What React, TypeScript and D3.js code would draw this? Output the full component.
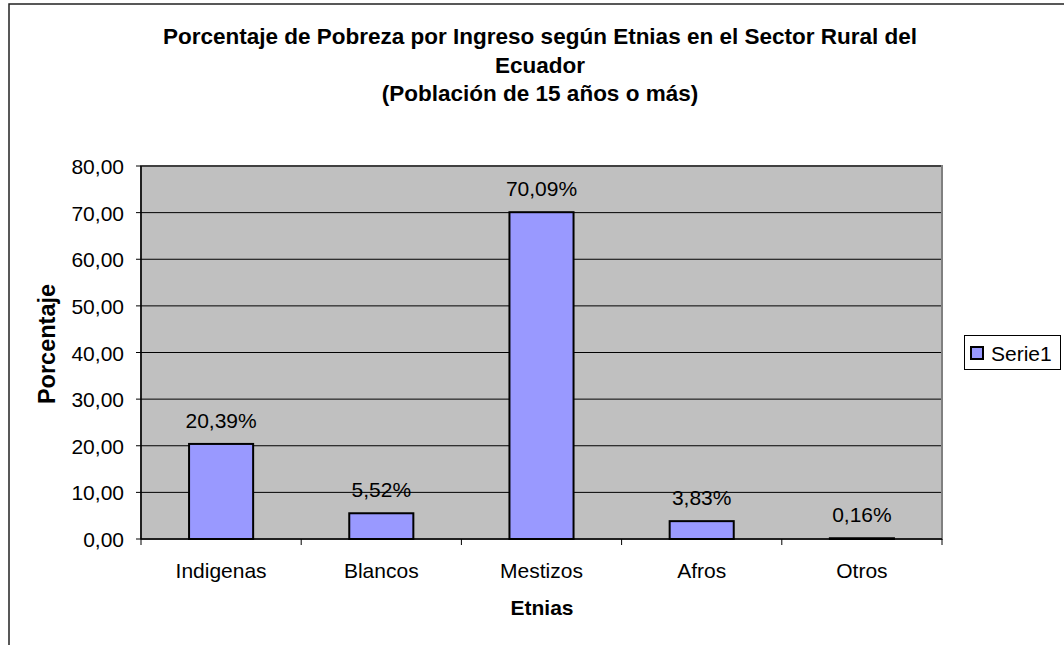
import React from "react";
import * as d3 from "d3";

const categories = ["Indigenas", "Blancos", "Mestizos", "Afros", "Otros"];
const values = [20.39, 5.52, 70.09, 3.83, 0.16];
const yTicks = [0, 10, 20, 30, 40, 50, 60, 70, 80];
const titleLines = [
  "Porcentaje de Pobreza por Ingreso según Etnias en el Sector Rural del",
  "Ecuador",
  "(Población de 15 años o más)",
];
const seriesName = "Serie1";

const W = 1064;
const H = 645;
const FONT = "'Liberation Sans', Arial, sans-serif";

export default function App() {
  const left = 141, right = 942, top = 166, bottom = 539;
  const x = d3.scaleBand<string>().domain(categories).range([left, right]).paddingInner(0.6).paddingOuter(0.3);
  const xOuter = d3.scaleBand<string>().domain(categories).range([left, right]);
  const y = d3.scaleLinear().domain([0, 80]).range([bottom, top]);
  const fmt = (v: number) => v.toFixed(2).replace(".", ",");

  return (
    <svg width={W} height={H} style={{ position: "absolute", left: 0, top: 0, fontFamily: FONT }}>
      <rect x={0} y={0} width={W} height={H} fill="#fff" />
      <rect x={9} y={4} width={W + 20} height={H + 20} fill="none" stroke="#222" strokeWidth={1.5} />
      {titleLines.map((t, i) => (
        <text key={i} x={540} y={44 + i * 28.5} textAnchor="middle" fontWeight="bold" fontSize={22.5} fill="#000">
          {t}
        </text>
      ))}
      <rect x={left} y={top} width={right - left} height={bottom - top} fill="#c0c0c0" stroke="#808080" strokeWidth={2} />
      {yTicks.filter((t) => t > 0).map((t) => (
        <line key={t} x1={left} x2={right - 1} y1={y(t)} y2={y(t)} stroke="#000" strokeWidth={1} />
      ))}
      {values.map((v, i) => (
        <g key={i}>
          <rect
            x={x(categories[i])!}
            y={y(v)}
            width={x.bandwidth()}
            height={bottom - y(v)}
            fill="#9999ff"
            stroke="#000"
            strokeWidth={2}
          />
          <text x={x(categories[i])! + x.bandwidth() / 2} y={y(v) - 16} textAnchor="middle" fontSize={21} fill="#000">
            {fmt(v) + "%"}
          </text>
        </g>
      ))}
      <line x1={left} x2={left} y1={top} y2={bottom} stroke="#000" strokeWidth={1.5} />
      <line x1={left} x2={right} y1={bottom} y2={bottom} stroke="#000" strokeWidth={1.5} />
      {yTicks.map((t) => (
        <g key={t}>
          <line x1={left - 5} x2={left} y1={y(t)} y2={y(t)} stroke="#000" />
          <text x={124} y={y(t) + 8} textAnchor="end" fontSize={21} fill="#000">
            {fmt(t)}
          </text>
        </g>
      ))}
      {categories.map((c, i) => (
        <g key={c}>
          <line x1={xOuter(c)!} x2={xOuter(c)!} y1={bottom} y2={bottom + 6} stroke="#000" />
          {i === categories.length - 1 && (
            <line x1={right} x2={right} y1={bottom} y2={bottom + 6} stroke="#000" />
          )}
          <text x={xOuter(c)! + xOuter.bandwidth() / 2} y={578} textAnchor="middle" fontSize={21} fill="#000">
            {c}
          </text>
        </g>
      ))}
      <text x={542} y={615} textAnchor="middle" fontWeight="bold" fontSize={21} fill="#000">
        Etnias
      </text>
      <text
        transform={`translate(55, 344) rotate(-90)`}
        textAnchor="middle"
        fontWeight="bold"
        fontSize={23.5}
        fill="#000"
      >
        Porcentaje
      </text>
      <rect x={964.5} y={335.5} width={96} height={34} fill="#fff" stroke="#000" strokeWidth={1} />
      <rect x={971} y={347} width={12} height={12} fill="#9999ff" stroke="#000" strokeWidth={2} />
      <text x={991} y={361} fontSize={21} fill="#000">
        {seriesName}
      </text>
    </svg>
  );
}
